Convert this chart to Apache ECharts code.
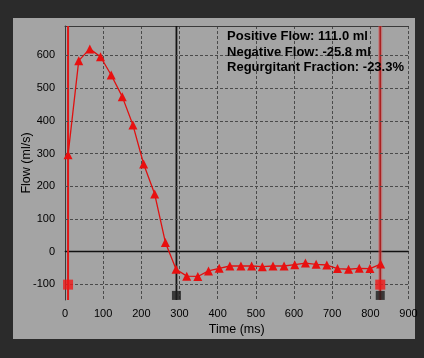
<!DOCTYPE html>
<html><head><meta charset="utf-8">
<script src="https://cdn.jsdelivr.net/npm/echarts@6/dist/echarts.min.js"></script>
<style>html,body{margin:0;padding:0;background:#2b2b2b;}#c{width:424px;height:358px;}</style>
</head><body><div id="c"></div>
<script>
// Data
const times = [8, 36, 65, 93, 121, 150, 178, 206, 235, 263, 291, 319, 348, 376, 404, 432, 461, 489, 517, 545, 574, 602, 630, 658, 686, 714, 743, 771, 799, 827];
const flow = [296, 584, 620, 596, 540, 474, 387, 268, 176, 28, -54, -75, -76, -59, -51, -44, -44, -44, -46, -44, -44, -40, -35, -39, -41, -52, -54, -51, -52, -38];
const redCursorTimes = [8, 826];
const blackCursorTime = 292;
const redMarkerValue = -101;
const blackMarkerValue = -134;
const blackMarkerTimes = [292, 826];
const xTicks = [0, 100, 200, 300, 400, 500, 600, 700, 800, 900];
const yTicks = [-100, 0, 100, 200, 300, 400, 500, 600];
const yRange = [-148, 690];
const infoLines = ['Positive Flow: 111.0 ml', 'Negative Flow: -25.8 ml', 'Regurgitant Fraction: -23.3%'];

const chart = echarts.init(document.getElementById('c'), null, {renderer: 'canvas'});
const font = '"Liberation Sans", Arial, sans-serif';
const vline = (t, color, width, z) => ({
  type: 'line', data: [[t, yRange[0]], [t, yRange[1]]], symbol: 'none', silent: true,
  lineStyle: {color: color, width: width}, z: z, animation: false
});
const gridStyle = {color: '#4a4a4a', type: [3, 2], width: 1};
chart.setOption({
  backgroundColor: '#2b2b2b',
  animation: false,
  graphic: [
    {type: 'rect', shape: {x: 13, y: 18, width: 402, height: 321}, style: {fill: '#a4a4a4'}, z: -10},
    {type: 'text', right: 20, top: 29, z: 100, style: {
      text: infoLines.join('\n'), font: 'bold 13px ' + font, fill: '#000', align: 'right', lineHeight: 15.3
    }}
  ],
  grid: {left: 65, top: 26, right: 15.5, bottom: 58, show: false},
  xAxis: [{
    type: 'value', min: 0, max: 900, interval: 100,
    name: 'Time (ms)', nameLocation: 'middle', nameGap: 23, nameMoveOverlap: false,
    nameTextStyle: {color: '#000', fontSize: 12.5, fontFamily: font},
    axisLine: {show: true, lineStyle: {color: '#3a3a3a', width: 1}},
    axisTick: {show: false},
    axisLabel: {color: '#000', fontSize: 11, fontFamily: font, margin: 8,
      formatter: v => xTicks.includes(v) ? String(v) : ''},
    splitLine: {show: true, lineStyle: gridStyle}
  }, {
    type: 'value', min: 0, max: 900, position: 'top',
    axisLine: {show: true, onZero: false, lineStyle: {color: '#3a3a3a', width: 1}},
    axisTick: {show: false}, axisLabel: {show: false}, splitLine: {show: false}
  }],
  yAxis: {
    type: 'value', min: yRange[0], max: yRange[1],
    name: 'Flow (ml/s)', nameLocation: 'middle', nameGap: 32, nameRotate: 90, nameMoveOverlap: false,
    nameTextStyle: {color: '#000', fontSize: 12.5, fontFamily: font},
    axisLine: {show: true, onZero: false, lineStyle: {color: '#3a3a3a', width: 1}},
    axisTick: {show: false, customValues: yTicks},
    axisLabel: {color: '#000', fontSize: 11, fontFamily: font, margin: 10, customValues: yTicks},
    splitLine: {show: false}
  },
  series: [
    {
      type: 'line', data: [], silent: true, z: 2,
      markLine: {silent: true, symbol: 'none', label: {show: false}, animation: false,
        lineStyle: gridStyle,
        data: yTicks.filter(v => v !== 0).map(v => ({yAxis: v}))}
    },
    {
      type: 'line', data: [[0, 0], [900, 0]], symbol: 'none', silent: true,
      lineStyle: {color: '#111', width: 1.5}, z: 3
    },
    vline(blackCursorTime, '#151515', 1.8, 4),
    vline(redCursorTimes[0], '#e01818', 2, 4),
    vline(redCursorTimes[1], 'rgba(220,80,80,0.5)', 4, 4),
    vline(redCursorTimes[1], '#a82020', 1.6, 4),
    {
      type: 'line', data: times.map((t, i) => [t, flow[i]]),
      symbol: 'triangle', symbolSize: 9, showAllSymbol: true,
      lineStyle: {color: '#e01010', width: 1.3},
      itemStyle: {color: '#e81010'}, z: 6
    },
    {
      type: 'scatter', data: blackMarkerTimes.map(t => [t, blackMarkerValue]),
      symbol: 'rect', symbolSize: 9, itemStyle: {color: '#1e1e1e'}, z: 7, clip: true
    },
    {
      type: 'scatter', data: redCursorTimes.map(t => [t, redMarkerValue]),
      symbol: 'rect', symbolSize: 10, itemStyle: {color: '#f01818'}, z: 8
    }
  ]
});
</script></body></html>
